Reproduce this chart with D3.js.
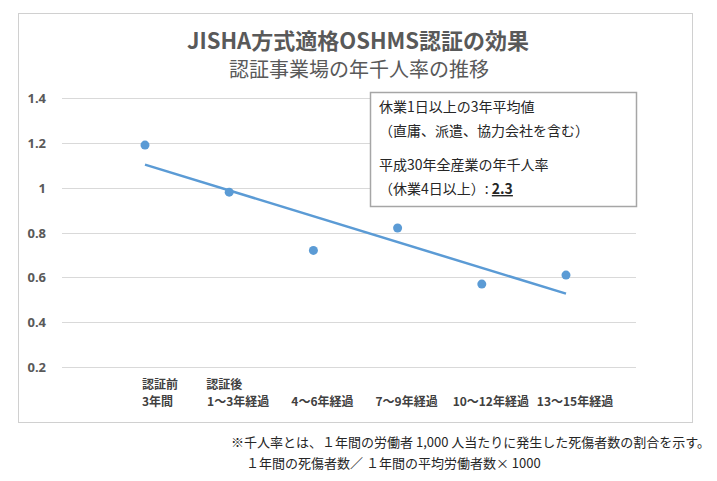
<!DOCTYPE html>
<html><head><meta charset="utf-8">
<script src="https://cdn.jsdelivr.net/npm/d3@7"></script>
<style>body{margin:0;background:#fff;font-family:"Noto Sans CJK JP","Noto Sans",sans-serif}</style>
</head><body>
<script>
// categories and values
var labelsTop = ["認証前", "認証後", "", "", "", ""];
var labelsBottom = ["3年間", "1～3年経過", "4～6年経過", "7～9年経過", "10～12年経過", "13～15年経過"];
var rates = [1.19, 0.98, 0.72, 0.82, 0.57, 0.61];
var yTicks = [0.2, 0.4, 0.6, 0.8, 1, 1.2, 1.4];

var svg = d3.select("body").append("svg").attr("width", 717).attr("height", 481);
var font = "Noto Sans CJK JP";

svg.append("rect").attr("x", 18.5).attr("y", 13.5).attr("width", 674).attr("height", 409)
  .attr("fill", "#fff").attr("stroke", "#d0d0d0");

svg.append("text").attr("x", 358).attr("y", 49).attr("text-anchor", "middle")
  .attr("font-family", font).attr("font-size", 22).attr("font-weight", "bold").attr("fill", "#595959")
  .text("JISHA方式適格OSHMS認証の効果");
svg.append("text").attr("x", 359).attr("y", 77).attr("text-anchor", "middle")
  .attr("font-family", font).attr("font-size", 20).attr("fill", "#595959")
  .text("認証事業場の年千人率の推移");

var x = d3.scalePoint().domain(d3.range(rates.length)).range([145, 566]);
var y = d3.scaleLinear().domain([0.2, 1.4]).range([367, 98]);

svg.selectAll(".grid").data(yTicks).enter().append("line")
  .attr("x1", 62).attr("x2", 636)
  .attr("y1", function(d) { return Math.round(y(d)) + 0.5; })
  .attr("y2", function(d) { return Math.round(y(d)) + 0.5; })
  .attr("stroke", "#d9d9d9");

svg.selectAll(".yl").data(yTicks).enter().append("text")
  .attr("x", 46).attr("y", function(d) { return y(d) + 5; }).attr("text-anchor", "end")
  .attr("font-family", "Noto Sans").attr("font-size", 13).attr("font-weight", "bold").attr("fill", "#595959")
  .text(function(d) { return d; });

// least squares trend line
var n = rates.length, mx = (n + 1) / 2, my = d3.mean(rates);
var sxy = d3.sum(rates, function(v, i) { return (i + 1 - mx) * (v - my); });
var sxx = d3.sum(rates, function(v, i) { return (i + 1 - mx) * (i + 1 - mx); });
var slope = sxy / sxx;
function fit(i) { return my + slope * (i + 1 - mx); }
svg.append("line")
  .attr("x1", x(0)).attr("y1", y(fit(0))).attr("x2", x(n - 1)).attr("y2", y(fit(n - 1)))
  .attr("stroke", "#5b9bd5").attr("stroke-width", 2.5);

svg.selectAll(".pt").data(rates).enter().append("circle")
  .attr("cx", function(d, i) { return x(i); }).attr("cy", function(d) { return y(d); })
  .attr("r", 4.5).attr("fill", "#5b9bd5");

// x labels: first one left aligned, the rest centred a bit right of the point
svg.selectAll(".xt").data(labelsTop).enter().append("text")
  .attr("x", function(d, i) { return i === 0 ? x(i) - 3 : x(i) - 23; }).attr("y", 389)
  .attr("font-family", font).attr("font-size", 12).attr("font-weight", "bold").attr("fill", "#404040")
  .text(function(d) { return d; });
svg.selectAll(".xb").data(labelsBottom).enter().append("text")
  .attr("x", function(d, i) { return i === 0 ? x(i) - 3 : x(i) + 9; }).attr("y", 406)
  .attr("text-anchor", function(d, i) { return i === 0 ? "start" : "middle"; })
  .attr("font-family", font).attr("font-size", 12).attr("font-weight", "bold").attr("fill", "#404040")
  .text(function(d) { return d; });

// annotation box
svg.append("rect").attr("x", 370.5).attr("y", 92.5).attr("width", 266).attr("height", 114)
  .attr("fill", "#fff").attr("stroke", "#a6a6a6").attr("stroke-width", 1.5);
var boxLines = ["休業1日以上の3年平均値", "（直庸、派遣、協力会社を含む）", "", "平成30年全産業の年千人率"];
var bl = [112, 136, 0, 170];
boxLines.forEach(function(t, i) {
  if (!t) return;
  svg.append("text").attr("x", 379).attr("y", bl[i]).attr("font-family", font).attr("font-size", 14)
    .attr("fill", "#262626").text(t);
});
var last = svg.append("text").attr("x", 379).attr("y", 194).attr("font-family", font).attr("font-size", 14).attr("fill", "#262626");
last.append("tspan").text("（休業4日以上）: ");
last.append("tspan").attr("font-weight", "bold").attr("text-decoration", "underline").text("2.3");

svg.append("text").attr("x", 231).attr("y", 447).attr("font-family", font).attr("font-size", 13).attr("fill", "#262626")
  .text("※千人率とは、１年間の労働者 1,000 人当たりに発生した死傷者数の割合を示す。");
svg.append("text").attr("x", 246).attr("y", 468).attr("font-family", font).attr("font-size", 13).attr("fill", "#262626")
  .text("１年間の死傷者数／ １年間の平均労働者数× 1000");
</script>
</body></html>
